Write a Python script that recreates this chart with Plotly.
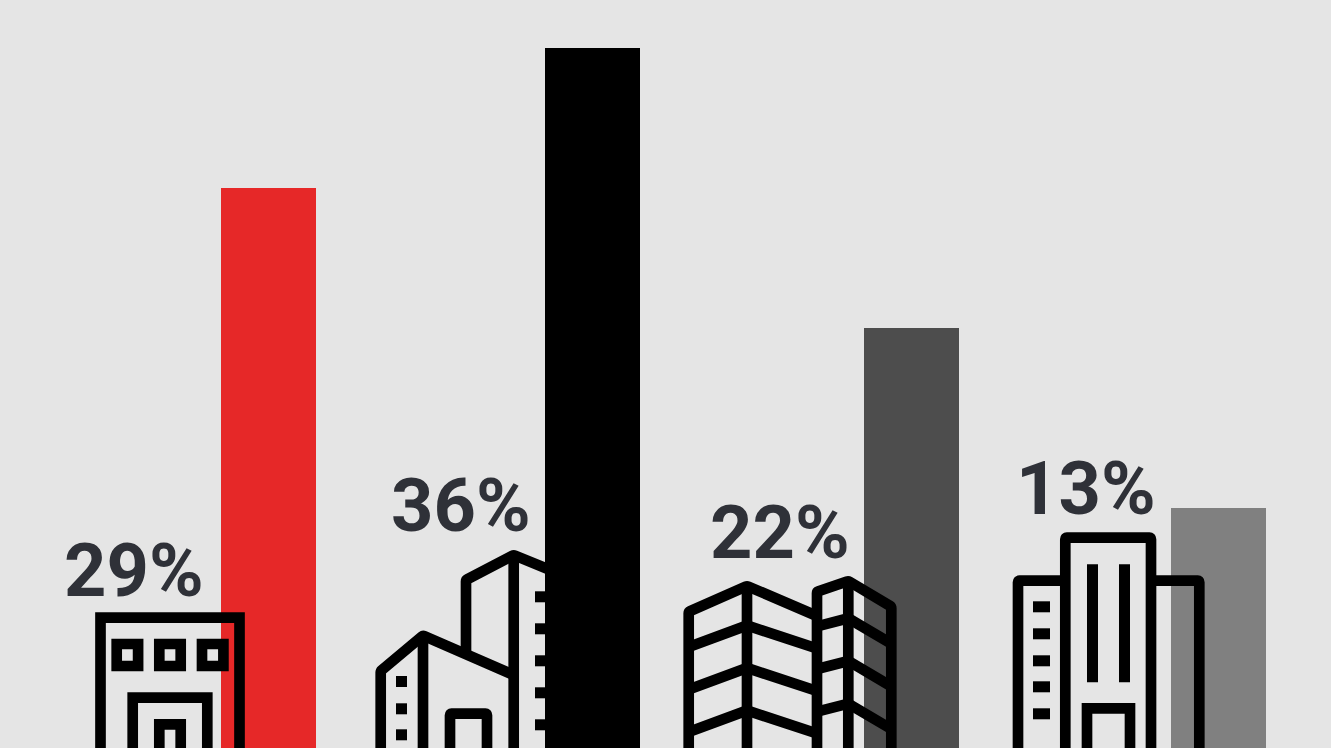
import plotly.graph_objects as go

# Chart data
labels = ["29%", "36%", "22%", "13%"]
values = [29, 36, 22, 13]
bar_colors = ["#E62828", "#000000", "#4D4D4D", "#808080"]

# Canvas and placement, in page pixels
WIDTH, HEIGHT = 1331, 748
BG = "#E5E5E5"
TEXT = "#2F3138"
bar_centers = [268.5, 592.5, 911.5, 1218.5]
BAR_WIDTH = 95
label_x = [134, 461, 780, 1086]
label_y = [570, 505, 532, 488]
PX_PER_UNIT = 20
BASELINE_PX = 768
STROKE = 10.67
BOTTOM = 770


def px(x, y):
    return x / WIDTH, 1 - y / HEIGHT


def path(points, close=False, radius=0.0):
    """SVG path in paper coordinates, optionally rounding the inner corners."""
    def p(x, y):
        a, b = px(x, y)
        return f"{a:.6f} {b:.6f}"

    parts = [f"M{p(*points[0])}"]
    for i in range(1, len(points)):
        cur = points[i]
        if radius and i < len(points) - 1:
            prev, nxt = points[i - 1], points[i + 1]
            def toward(a, b):
                dx, dy = b[0] - a[0], b[1] - a[1]
                d = (dx * dx + dy * dy) ** 0.5
                t = min(radius / d, 0.5)
                return a[0] + dx * t, a[1] + dy * t
            s, e = toward(cur, prev), toward(cur, nxt)
            parts.append(f"L{p(*s)}")
            parts.append(f"Q{p(*cur)} {p(*e)}")
        else:
            parts.append(f"L{p(*cur)}")
    if close:
        parts.append("Z")
    return "".join(parts)


def line(points, close=False, radius=0.0):
    return dict(
        type="path", xref="paper", yref="paper", path=path(points, close, radius),
        line=dict(color="#000000", width=STROKE), fillcolor="rgba(0,0,0,0)", layer="above",
    )


def block(x0, y0, x1, y1):
    return dict(
        type="path", xref="paper", yref="paper",
        path=path([(x0, y0), (x1, y0), (x1, y1), (x0, y1)], True),
        line=dict(width=0), fillcolor="#000000", layer="above",
    )


shapes = []

# Low office block
shapes.append(line([(100.5, BOTTOM), (100.5, 617.6), (239.5, 617.6), (239.5, BOTTOM)]))
for x in (116.7, 159.3, 202):
    shapes.append(line([(x, 644), (x + 21.4, 644), (x + 21.4, 666), (x, 666)], close=True))
shapes.append(line([(132.7, BOTTOM), (132.7, 697.6), (207.3, 697.6), (207.3, BOTTOM)]))
shapes.append(line([(159.3, BOTTOM), (159.3, 724.3), (180.7, 724.3), (180.7, BOTTOM)]))

# Stepped towers
R = 1.5
shapes.append(line([(380.7, BOTTOM), (380.7, 671), (423, 635.5), (513.7, 675)], radius=R))
shapes.append(line([(423, 635.5), (423, BOTTOM)]))
shapes.append(line([(466, 654), (466, 580), (513.7, 555), (560, 574)], radius=R))
shapes.append(line([(513.7, 555), (513.7, BOTTOM)]))
shapes.append(line([(450, BOTTOM), (450, 713.7), (487, 713.7), (487, BOTTOM)], radius=R))
for y in (591.3, 623.3, 655.3, 687.3, 719.3):
    shapes.append(block(535, y, 560, y + 11))
for y in (676, 703.3, 729.3):
    shapes.append(block(396, y, 407, y + 11))

# Angled glass towers
shapes.append(line([(688.7, BOTTOM), (688.7, 611.7), (747, 586), (817, 616)], radius=R))
shapes.append(line([(747, 586), (747, BOTTOM)]))
shapes.append(line([(817, BOTTOM), (817, 591.7), (848.3, 581), (891.3, 606.7), (891.3, BOTTOM)], radius=R))
shapes.append(line([(848.3, 581), (848.3, BOTTOM)]))
for y in (647, 689.5, 732):
    shapes.append(line([(688.7, y), (747, y - 21.5), (817, y + 1.5)]))
for y in (626.3, 669, 711.6):
    shapes.append(line([(817, y), (848.3, y - 8), (891.3, y + 17.4)]))

# Central tower with wings
shapes.append(line([(1018, BOTTOM), (1018, 580.7), (1065.3, 580.7)], radius=R))
shapes.append(line([(1065.3, BOTTOM), (1065.3, 537.7), (1151, 537.7), (1151, BOTTOM)], radius=R))
shapes.append(line([(1151, 580.7), (1199.3, 580.7), (1199.3, BOTTOM)], radius=R))
shapes.append(block(1087, 564.3, 1098, 682.3))
shapes.append(block(1119, 564.3, 1130, 682.3))
for y in (601.3, 628.3, 655.3, 681.3, 708.3):
    shapes.append(block(1033, y, 1050, y + 11))
shapes.append(line([(1087, BOTTOM), (1087, 708.3), (1130, 708.3), (1130, BOTTOM)]))

annotations = [
    dict(
        text=t, xref="paper", yref="paper", x=px(x, y)[0], y=px(x, y)[1],
        xanchor="center", yanchor="middle", showarrow=False,
        font=dict(family="Roboto", size=74, color=TEXT, weight=700),
    )
    for t, x, y in zip(labels, label_x, label_y)
]

fig = go.Figure(
    go.Bar(
        x=bar_centers, y=values, width=BAR_WIDTH,
        marker=dict(color=bar_colors, line=dict(width=0)),
        hoverinfo="skip", showlegend=False,
    )
)
fig.update_layout(
    width=WIDTH, height=HEIGHT,
    margin=dict(l=0, r=0, t=0, b=0),
    paper_bgcolor=BG, plot_bgcolor=BG,
    shapes=shapes, annotations=annotations,
    xaxis=dict(range=[0, WIDTH], visible=False, fixedrange=True),
    yaxis=dict(
        range=[(BASELINE_PX - HEIGHT) / PX_PER_UNIT, BASELINE_PX / PX_PER_UNIT],
        visible=False, fixedrange=True,
    ),
)
fig.write_html("out.html", config=dict(displayModeBar=False))
